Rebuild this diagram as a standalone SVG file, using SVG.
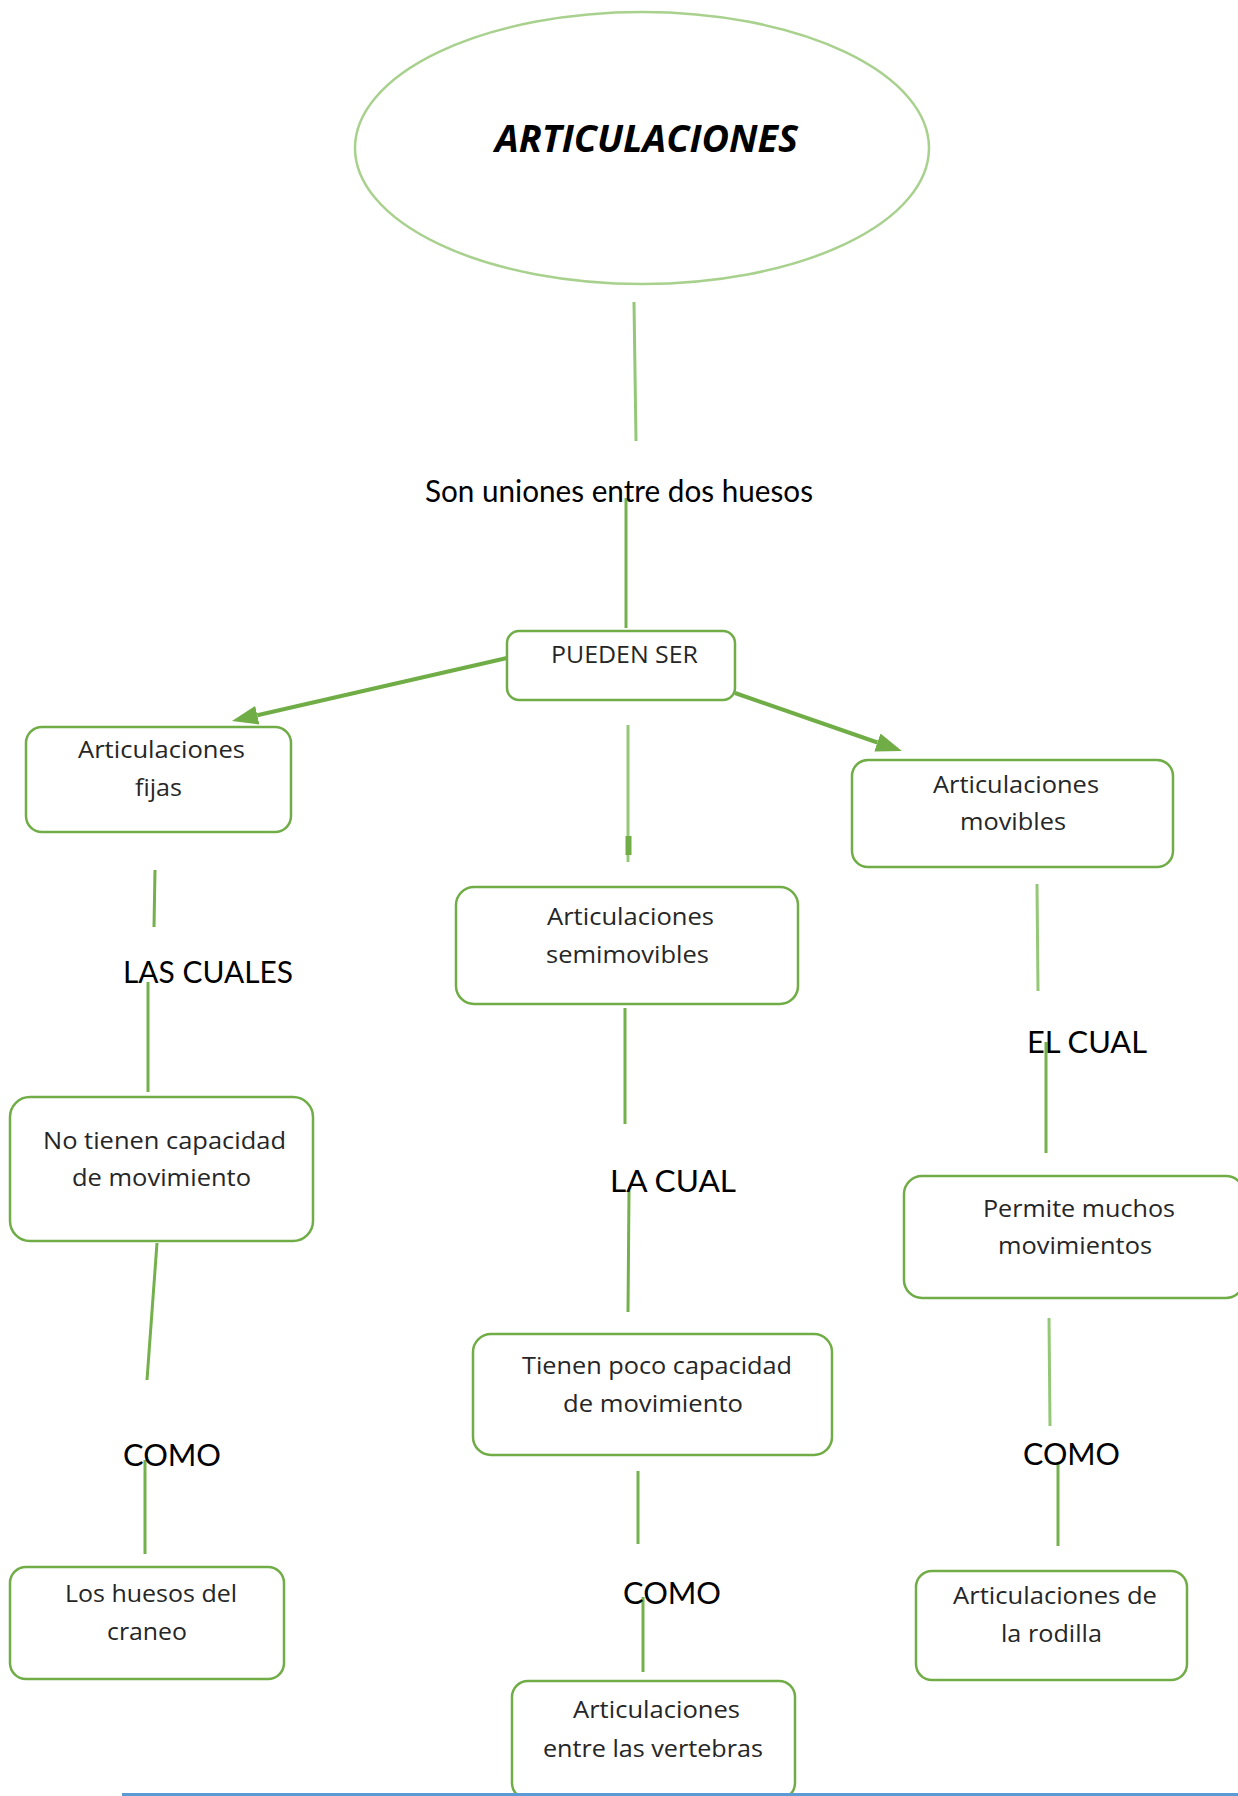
<svg xmlns="http://www.w3.org/2000/svg" width="1238" height="1796" viewBox="0 0 1238 1796">
<style>
.box{fill:#ffffff;stroke:#70ad47;stroke-width:2.5}
.bt{font-family:"Open Sans","Liberation Sans",sans-serif;font-size:23px;fill:#262626;text-anchor:middle}
.lbl{font-family:Lato,"Liberation Sans",sans-serif;font-size:30px;fill:#000000}
.c{stroke:#74b04c;stroke-width:3;fill:none}
.cl{stroke:#94c878;stroke-width:3;fill:none}
.arr{stroke:#70ad47;stroke-width:4;fill:none}
</style>
<defs>
<marker id="ah" viewBox="0 0 10 10" refX="0" refY="5" markerWidth="26" markerHeight="19" markerUnits="userSpaceOnUse" orient="auto" preserveAspectRatio="none">
<path d="M0,0 L10,5 L0,10 z" fill="#70ad47"/>
</marker>
</defs>
<rect x="0" y="0" width="1238" height="1796" fill="#ffffff"/>

<g id="connectors">
<line class="cl" x1="634" y1="302" x2="636" y2="441"/>
<line class="c" x1="626" y1="498" x2="626" y2="628"/>
<line class="cl" x1="628" y1="725" x2="628" y2="862"/>
<rect x="625.5" y="836" width="6" height="19" fill="#70ad47"/>
<line class="arr" x1="507" y1="658" x2="257.3" y2="715.2" marker-end="url(#ah)"/>
<line class="arr" x1="735" y1="693" x2="877.4" y2="742.5" marker-end="url(#ah)"/>
<line class="c" x1="155" y1="870" x2="154" y2="927"/>
<line class="c" x1="148" y1="982" x2="148" y2="1092"/>
<line class="c" x1="157" y1="1243" x2="147" y2="1380"/>
<line class="c" x1="145" y1="1460" x2="145" y2="1554"/>
<line class="c" x1="625" y1="1008" x2="625" y2="1124"/>
<line class="c" x1="629" y1="1191" x2="628" y2="1312"/>
<line class="c" x1="638" y1="1471" x2="638" y2="1544"/>
<line class="c" x1="643" y1="1597" x2="643" y2="1672"/>
<line class="cl" x1="1037" y1="884" x2="1038" y2="991"/>
<line class="c" x1="1046" y1="1042" x2="1046" y2="1153"/>
<line class="cl" x1="1049" y1="1318" x2="1050" y2="1426"/>
<line class="c" x1="1058" y1="1463" x2="1058" y2="1546"/>
<text class="lbl" x="425" y="502" textLength="388" lengthAdjust="spacingAndGlyphs">Son uniones entre dos huesos</text>
<text class="lbl" x="123" y="983" textLength="170" lengthAdjust="spacingAndGlyphs">LAS CUALES</text>
<text class="lbl" x="123" y="1466" textLength="98" lengthAdjust="spacingAndGlyphs">COMO</text>
<text class="lbl" x="610" y="1192" textLength="126" lengthAdjust="spacingAndGlyphs">LA CUAL</text>
<text class="lbl" x="623" y="1604" textLength="98" lengthAdjust="spacingAndGlyphs">COMO</text>
<text class="lbl" x="1027" y="1053" textLength="120" lengthAdjust="spacingAndGlyphs">EL CUAL</text>
<text class="lbl" x="1023" y="1465" textLength="97" lengthAdjust="spacingAndGlyphs">COMO</text>
</g>

<g id="n-articulaciones">
<ellipse cx="642" cy="148" rx="287" ry="136" fill="#ffffff" stroke="#a9d18e" stroke-width="2.5"/>
<text x="495" y="152" textLength="303" lengthAdjust="spacingAndGlyphs" font-family="'Open Sans','Liberation Sans',sans-serif" font-size="38" font-weight="bold" font-style="italic" fill="#000000">ARTICULACIONES</text>
</g>

<g id="n-pueden">
<rect class="box" x="507" y="631" width="228" height="69" rx="12"/>
<text class="bt" x="624.5" y="663" textLength="147" lengthAdjust="spacingAndGlyphs">PUEDEN SER</text>
</g>

<g id="n-fijas">
<rect class="box" x="26" y="727" width="265" height="105" rx="16"/>
<text class="bt" x="161.5" y="758" textLength="167" lengthAdjust="spacingAndGlyphs">Articulaciones</text>
<text class="bt" x="158.5" y="796" textLength="47" lengthAdjust="spacingAndGlyphs">fijas</text>
</g>

<g id="n-semimovibles">
<rect class="box" x="456" y="887" width="342" height="117" rx="18"/>
<text class="bt" x="630.5" y="925" textLength="167" lengthAdjust="spacingAndGlyphs">Articulaciones</text>
<text class="bt" x="627.5" y="963" textLength="163" lengthAdjust="spacingAndGlyphs">semimovibles</text>
</g>

<g id="n-movibles">
<rect class="box" x="852" y="760" width="321" height="107" rx="16"/>
<text class="bt" x="1016" y="793" textLength="166" lengthAdjust="spacingAndGlyphs">Articulaciones</text>
<text class="bt" x="1013" y="830" textLength="106" lengthAdjust="spacingAndGlyphs">movibles</text>
</g>

<g id="n-notienen">
<rect class="box" x="10" y="1097" width="303" height="144" rx="20"/>
<text class="bt" x="164.5" y="1149" textLength="243" lengthAdjust="spacingAndGlyphs">No tienen capacidad</text>
<text class="bt" x="161.5" y="1186" textLength="179" lengthAdjust="spacingAndGlyphs">de movimiento</text>
</g>

<g id="n-tienenpoco">
<rect class="box" x="473" y="1334" width="359" height="121" rx="18"/>
<text class="bt" x="657" y="1374" textLength="270" lengthAdjust="spacingAndGlyphs">Tienen poco capacidad</text>
<text class="bt" x="653" y="1412" textLength="180" lengthAdjust="spacingAndGlyphs">de movimiento</text>
</g>

<g id="n-permite">
<rect class="box" x="904" y="1176" width="340" height="122" rx="18"/>
<text class="bt" x="1079" y="1217" textLength="192" lengthAdjust="spacingAndGlyphs">Permite muchos</text>
<text class="bt" x="1075" y="1254" textLength="154" lengthAdjust="spacingAndGlyphs">movimientos</text>
</g>

<g id="n-craneo">
<rect class="box" x="10" y="1567" width="274" height="112" rx="16"/>
<text class="bt" x="151" y="1602" textLength="172" lengthAdjust="spacingAndGlyphs">Los huesos del</text>
<text class="bt" x="147" y="1640" textLength="80" lengthAdjust="spacingAndGlyphs">craneo</text>
</g>

<g id="n-vertebras">
<rect class="box" x="512" y="1681" width="283" height="118" rx="16"/>
<text class="bt" x="656.5" y="1718" textLength="167" lengthAdjust="spacingAndGlyphs">Articulaciones</text>
<text class="bt" x="653" y="1757" textLength="220" lengthAdjust="spacingAndGlyphs">entre las vertebras</text>
</g>

<g id="n-rodilla">
<rect class="box" x="916" y="1571" width="271" height="109" rx="16"/>
<text class="bt" x="1055" y="1604" textLength="204" lengthAdjust="spacingAndGlyphs">Articulaciones de</text>
<text class="bt" x="1051.5" y="1642" textLength="101" lengthAdjust="spacingAndGlyphs">la rodilla</text>
</g>

<line x1="122" y1="1794.5" x2="1238" y2="1794.5" stroke="#5b9bd5" stroke-width="3"/>
</svg>
